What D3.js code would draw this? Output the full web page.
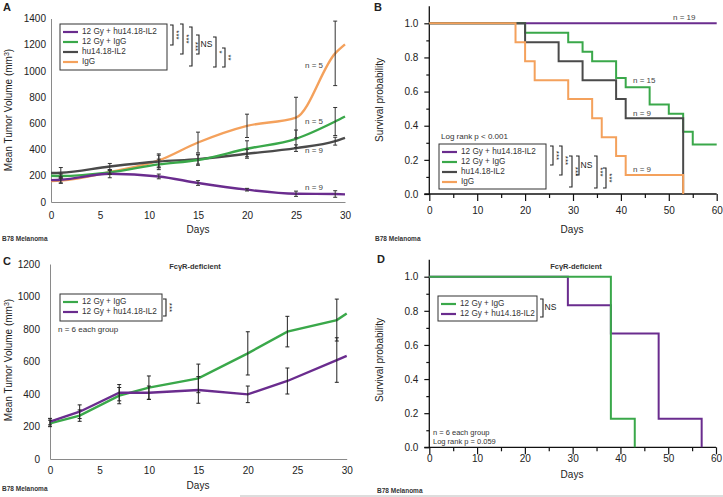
<!DOCTYPE html>
<html><head><meta charset="utf-8">
<script src="https://cdn.jsdelivr.net/npm/d3@7"></script>
<style>body{margin:0;background:#fff}svg{display:block;font-family:"Liberation Sans",Arial,sans-serif}</style>
</head><body><svg id="c" width="723" height="497"></svg>
<script>
// ---------- DATA ----------
// Panel A: mean tumor volume (mm3)
const daysA = [0, 1, 6, 11, 15, 20, 25, 29, 30];
const aPurple = [167, 170, 215, 195, 145, 94, 63, 61, 58];
const aPurpleErr = [null, 25, 30, 18, 18, 10, 20, 25, null];
const aGreen = [200, 198, 226, 287, 320, 406, 482, 614, 652];
const aGreenErr = [null, 15, 15, 40, 40, 61, 67, 107, null];
const aGray = [221, 223, 271, 309, 327, 368, 411, 464, 490];
const aGrayErr = [null, 40, 23, 48, 38, 34, 25, 30, null];
const aOrange = [160, 163, 228, 317, 454, 581, 644, 1134, 1202];
const aOrangeErr = [null, 20, 15, 50, 79, 89, 155, 246, null];
const namesA = ["12 Gy + hu14.18-IL2", "12 Gy + IgG", "hu14.18-IL2", "IgG"];
const yTicksA = [0, 200, 400, 600, 800, 1000, 1200, 1400];
const xTicksA = [0, 5, 10, 15, 20, 25, 30];

// Panel B: survival
const bPurpleT = [0, 60], bPurpleS = [1, 1];
const bGreenT = [0, 20, 29, 32, 34, 39, 41, 46, 50, 53, 55, 60];
const bGreenS = [1, 0.944, 0.889, 0.833, 0.778, 0.68, 0.625, 0.525, 0.47, 0.365, 0.29, 0.29];
const bGrayT = [0, 20, 27, 32, 39, 41, 53];
const bGrayS = [1, 0.889, 0.778, 0.667, 0.556, 0.444, 0];
const bOrangeT = [0, 18, 20, 22, 29, 34, 36, 39, 41, 53];
const bOrangeS = [1, 0.889, 0.778, 0.667, 0.556, 0.444, 0.333, 0.222, 0.111, 0];
const yTicksS = [0, 0.2, 0.4, 0.6, 0.8, 1.0];
const xTicksS = [0, 10, 20, 30, 40, 50, 60];

// Panel C: FcyR-deficient tumor volume
const daysC = [0, 3, 7, 10, 15, 20, 24, 29, 30];
const cGreen = [219, 267, 390, 439, 496, 650, 784, 855, 896];
const cGreenErr = [20, 35, 50, 72, 88, 133, 94, 129, null];
const cPurple = [230, 291, 408, 408, 425, 398, 480, 609, 634];
const cPurpleErr = [20, 42, 50, 41, 82, 51, 80, 137, null];
const namesC = ["12 Gy + IgG", "12 Gy + hu14.18-IL2"];
const yTicksC = [0, 200, 400, 600, 800, 1000, 1200];

// Panel D: FcyR-deficient survival
const dGreenT = [0, 38, 43], dGreenS = [1, 0.167, 0];
const dPurpleT = [0, 29, 38, 48, 57], dPurpleS = [1, 0.833, 0.667, 0.167, 0];

// ---------- STYLE ----------
const COL = {purple: "#6a2c8e", green: "#3aa84a", gray: "#4a4a4a", orange: "#f4a15c"};
const svg = d3.select("#c");
const TXT = "#222";

function txt(g, x, y, s, opt = {}) {
  return g.append("text").attr("x", x).attr("y", y).text(s)
    .attr("font-size", opt.size || 8).attr("fill", opt.fill || TXT)
    .attr("font-weight", opt.bold ? "bold" : null)
    .attr("text-anchor", opt.anchor || "start")
    .attr("dominant-baseline", "middle");
}
function bracket(g, x, y1, y2, label, rot) {
  g.append("path").attr("d", `M${x - 3},${y1}H${x}V${y2}H${x - 3}`)
    .attr("fill", "none").attr("stroke", "#222").attr("stroke-width", 1.1);
  const ym = (y1 + y2) / 2;
  if (rot) {
    g.append("text").attr("transform", `translate(${x + 3},${ym}) rotate(90)`)
      .attr("text-anchor", "middle").attr("dominant-baseline", "middle")
      .attr("font-size", 8).attr("fill", TXT).text(label);
  } else txt(g, x + 1.5, ym, label, {size: 8.5});
}
function legend(g, x, y, w, h, items, dy) {
  g.append("rect").attr("x", x).attr("y", y).attr("width", w).attr("height", h)
    .attr("fill", "#fff").attr("stroke", "#333").attr("stroke-width", 1);
  items.forEach((it, i) => {
    const yy = y + 8 + i * dy;
    g.append("line").attr("x1", x + 3).attr("x2", x + 18).attr("y1", yy).attr("y2", yy)
      .attr("stroke", it.c).attr("stroke-width", 2.2);
    txt(g, x + 22, yy, it.n, {size: 8.2, fill: "#333"});
  });
}
function yTitle(g, x, y, parts) {
  const t = g.append("text").attr("transform", `translate(${x},${y}) rotate(-90)`)
    .attr("text-anchor", "middle").attr("font-size", 10).attr("fill", TXT);
  parts.forEach(p => {
    const s = t.append("tspan").text(p.t);
    if (p.sup) s.attr("baseline-shift", "super").attr("font-size", 7);
  });
}

// ---------- PANEL A ----------
(function () {
  const g = svg.append("g");
  const x = d3.scaleLinear().domain([0, 30]).range([51, 345]);
  const y = d3.scaleLinear().domain([0, 1400]).range([202, 18.5]);
  const ax = g.append("g").attr("transform", "translate(0,202)")
    .call(d3.axisBottom(x).tickValues(xTicksA).tickSize(0).tickPadding(10).tickFormat(d3.format("d")));
  const ay = g.append("g").attr("transform", "translate(51,0)")
    .call(d3.axisLeft(y).tickValues(yTicksA).tickSize(0).tickPadding(5).tickFormat(d3.format("d")));
  [ax, ay].forEach(a => { a.select(".domain").attr("stroke", "#8a8a8a");
    a.selectAll("text").attr("font-size", 10).attr("fill", TXT).attr("font-family", null); });
  const series = [
    {v: aOrange, e: aOrangeErr, c: COL.orange},
    {v: aGray, e: aGrayErr, c: COL.gray},
    {v: aGreen, e: aGreenErr, c: COL.green},
    {v: aPurple, e: aPurpleErr, c: COL.purple}];
  const line = d3.line().x((d, i) => x(daysA[i])).y(d => y(d)).curve(d3.curveMonotoneX);
  series.forEach(s => g.append("path").attr("d", line(s.v)).attr("fill", "none")
    .attr("stroke", s.c).attr("stroke-width", 2.4));
  series.forEach(s => s.v.forEach((v, i) => {
    if (s.e[i] == null) return;
    const xx = x(daysA[i]), y1 = y(v - s.e[i]), y2 = y(v + s.e[i]);
    g.append("path").attr("d", `M${xx},${y1}V${y2}M${xx - 2},${y1}H${xx + 2}M${xx - 2},${y2}H${xx + 2}`)
      .attr("stroke", "#333").attr("stroke-width", 1).attr("fill", "none");
  }));
  yTitle(g, 12, 110, [{t: "Mean Tumor Volume (mm"}, {t: "3", sup: true}, {t: ")"}]);
  g.append("text").attr("x", 198).attr("y", 230).attr("text-anchor", "middle")
    .attr("dominant-baseline", "middle").attr("font-size", 10).attr("fill", TXT).text("Days");
  txt(g, 3, 8, "A", {size: 11, bold: true});
  txt(g, 2, 239, "B78 Melanoma", {size: 6.5, bold: true, fill: "#333"});
  legend(g, 60, 24, 107, 46, namesA.map((n, i) => ({n, c: [COL.purple, COL.green, COL.gray, COL.orange][i]})), 10);
  bracket(g, 173, 25, 45, "***", true);
  bracket(g, 183, 24, 54, "***", true);
  bracket(g, 192, 27, 66, "***", true);
  bracket(g, 199, 35, 54, "NS", false);
  bracket(g, 216, 37, 67, "*", true);
  bracket(g, 225, 48, 67, "**", true);
  [["n = 5", 66], ["n = 5", 122], ["n = 9", 151], ["n = 9", 188]]
    .forEach(d => txt(g, 305, d[1], d[0], {size: 8, fill: "#444"}));
})();

// ---------- survival axes helper ----------
function survAxes(g, x, y, labelPad) {
  const y0 = y.range()[0];
  const minorX = d3.range(5, 60, 10);
  const minorY = d3.range(0.1, 1.1, 0.2);
  const ax = g.append("g").attr("transform", `translate(0,${y0})`)
    .call(d3.axisBottom(x).tickValues(xTicksS).tickSize(7).tickPadding(labelPad));
  g.append("g").attr("transform", `translate(0,${y0})`)
    .call(d3.axisBottom(x).tickValues(minorX).tickSize(4).tickFormat(""))
    .select(".domain").remove();
  const ay = g.append("g").attr("transform", `translate(${x.range()[0]},0)`)
    .call(d3.axisLeft(y).tickValues(yTicksS).tickSize(5).tickPadding(6).tickFormat(d3.format(".1f")));
  g.append("g").attr("transform", `translate(${x.range()[0]},0)`)
    .call(d3.axisLeft(y).tickValues(minorY).tickSize(3).tickFormat(""))
    .select(".domain").remove();
  ay.select(".domain").remove();
  ax.select(".domain").remove();
  g.append("line").attr("x1", x.range()[0]).attr("x2", x.range()[0])
    .attr("y1", y0).attr("y2", y(1.1)).attr("stroke", "#111").attr("stroke-width", 1.3);
  g.append("line").attr("x1", x.range()[0] - 5).attr("x2", x.range()[1])
    .attr("y1", y0).attr("y2", y0).attr("stroke", "#111").attr("stroke-width", 1.3);
  g.selectAll(".tick line").attr("stroke", "#111").attr("stroke-width", 1.2);
  g.selectAll(".tick text").attr("font-size", 10).attr("fill", TXT).attr("font-family", null);
}
function stepLine(g, x, y, T, S, c) {
  const l = d3.line().x((d, i) => x(T[i])).y(d => y(d)).curve(d3.curveStepAfter);
  g.append("path").attr("d", l(S)).attr("fill", "none").attr("stroke", c).attr("stroke-width", 2);
}

// ---------- PANEL B ----------
(function () {
  const g = svg.append("g");
  const x = d3.scaleLinear().domain([0, 60]).range([429.3, 716.7]);
  const y = d3.scaleLinear().domain([0, 1]).range([194, 23.3]);
  survAxes(g, x, y, 6);
  stepLine(g, x, y, bPurpleT, bPurpleS, COL.purple);
  stepLine(g, x, y, bGreenT, bGreenS, COL.green);
  stepLine(g, x, y, bGrayT, bGrayS, COL.gray);
  stepLine(g, x, y, bOrangeT, bOrangeS, COL.orange);
  yTitle(g, 383, 100, [{t: "Survival probability"}]);
  g.append("text").attr("x", 572).attr("y", 230).attr("text-anchor", "middle")
    .attr("dominant-baseline", "middle").attr("font-size", 10).attr("fill", TXT).text("Days");
  txt(g, 374, 8, "B", {size: 11, bold: true});
  txt(g, 375, 239, "B78 Melanoma", {size: 6.5, bold: true, fill: "#333"});
  txt(g, 441, 137, "Log rank p < 0.001", {size: 8, fill: "#333"});
  legend(g, 439, 144, 107, 45, namesA.map((n, i) => ({n, c: [COL.purple, COL.green, COL.gray, COL.orange][i]})), 10);
  bracket(g, 553, 146, 165, "***", true);
  bracket(g, 562, 146, 175, "***", true);
  bracket(g, 572, 156, 187, "***", true);
  bracket(g, 579, 156, 175, "NS", false);
  bracket(g, 597, 156, 188, "***", true);
  bracket(g, 606, 168, 188, "***", true);
  [["n = 19", 673, 18], ["n = 15", 633, 81], ["n = 9", 633, 114], ["n = 9", 633, 170]]
    .forEach(d => txt(g, d[1], d[2], d[0], {size: 8, fill: "#444"}));
})();

// ---------- PANEL C ----------
(function () {
  const g = svg.append("g");
  const x = d3.scaleLinear().domain([0, 30]).range([50, 346.7]);
  const y = d3.scaleLinear().domain([0, 1200]).range([459, 264]);
  const ax = g.append("g").attr("transform", "translate(0,459)")
    .call(d3.axisBottom(x).tickValues(xTicksA).tickSize(0).tickPadding(8).tickFormat(d3.format("d")));
  const ay = g.append("g").attr("transform", "translate(50,0)")
    .call(d3.axisLeft(y).tickValues(yTicksC).tickSize(0).tickPadding(10).tickFormat(d3.format("d")));
  [ax, ay].forEach(a => { a.select(".domain").attr("stroke", "#8a8a8a");
    a.selectAll("text").attr("font-size", 10).attr("fill", TXT).attr("font-family", null); });
  const series = [{v: cGreen, e: cGreenErr, c: COL.green}, {v: cPurple, e: cPurpleErr, c: COL.purple}];
  const line = d3.line().x((d, i) => x(daysC[i])).y(d => y(d));
  series.forEach(s => g.append("path").attr("d", line(s.v)).attr("fill", "none")
    .attr("stroke", s.c).attr("stroke-width", 2.4));
  series.forEach(s => s.v.forEach((v, i) => {
    if (s.e[i] == null) return;
    const xx = x(daysC[i]), y1 = y(v - s.e[i]), y2 = y(v + s.e[i]);
    g.append("path").attr("d", `M${xx},${y1}V${y2}M${xx - 2},${y1}H${xx + 2}M${xx - 2},${y2}H${xx + 2}`)
      .attr("stroke", "#222").attr("stroke-width", 1).attr("fill", "none");
  }));
  yTitle(g, 12, 360, [{t: "Mean Tumor Volume (mm"}, {t: "3", sup: true}, {t: ")"}]);
  g.append("text").attr("x", 198).attr("y", 486).attr("text-anchor", "middle")
    .attr("dominant-baseline", "middle").attr("font-size", 10).attr("fill", TXT).text("Days");
  txt(g, 3, 262, "C", {size: 11, bold: true});
  txt(g, 195, 267, "FcγR-deficient", {size: 7.5, bold: true, anchor: "middle", fill: "#333"});
  txt(g, 2, 489, "B78 Melanoma", {size: 6.5, bold: true, fill: "#333"});
  legend(g, 60, 294, 102, 27, namesC.map((n, i) => ({n, c: [COL.green, COL.purple][i]})), 10);
  bracket(g, 166, 299, 316, "***", true);
  txt(g, 58, 330, "n = 6 each group", {size: 8, fill: "#333"});
})();

// ---------- PANEL D ----------
(function () {
  const g = svg.append("g");
  const x = d3.scaleLinear().domain([0, 60]).range([429.3, 716]);
  const y = d3.scaleLinear().domain([0, 1]).range([447.3, 276.7]);
  survAxes(g, x, y, 1);
  stepLine(g, x, y, dPurpleT, dPurpleS, COL.purple);
  stepLine(g, x, y, dGreenT, dGreenS, COL.green);
  yTitle(g, 383, 360, [{t: "Survival probability"}]);
  g.append("text").attr("x", 572).attr("y", 475).attr("text-anchor", "middle")
    .attr("dominant-baseline", "middle").attr("font-size", 10).attr("fill", TXT).text("Days");
  txt(g, 377, 260, "D", {size: 11, bold: true});
  txt(g, 576, 267, "FcγR-deficient", {size: 7.5, bold: true, anchor: "middle", fill: "#333"});
  txt(g, 377, 491, "B78 Melanoma", {size: 6.5, bold: true, fill: "#333"});
  legend(g, 438, 296, 99, 25, namesC.map((n, i) => ({n, c: [COL.green, COL.purple][i]})), 10);
  bracket(g, 543, 299, 317, "NS", false);
  txt(g, 433, 433, "n = 6 each group", {size: 7.5, fill: "#333"});
  txt(g, 433, 442, "Log rank p = 0.059", {size: 7.5, fill: "#333"});
  g.append("line").attr("x1", 240).attr("x2", 723).attr("y1", 496).attr("y2", 496)
    .attr("stroke", "#bbb").attr("stroke-width", 1);
})();
</script></body></html>
